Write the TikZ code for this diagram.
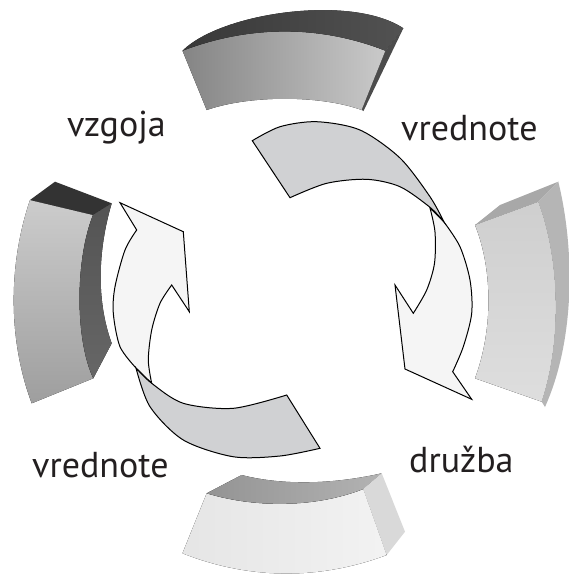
\documentclass[tikz,border=0pt]{standalone}
\usepackage{fontspec}
\setmainfont{PT Sans}
\usetikzlibrary{calc}
\definecolor{ink}{HTML}{231F20}
\definecolor{arrowgray}{HTML}{D0D1D3}
\definecolor{arrowlight}{HTML}{F5F5F5}
\tikzset{
  arrowpart/.style={draw=black, line width=1pt, line join=miter},
  lbl/.style={anchor=base west, inner sep=0pt, text=ink, font=\fontsize{36}{40}\selectfont},
}
\begin{document}
\begin{tikzpicture}[x=1pt,y=-1pt]
\useasboundingbox[fill=white] (0,0) rectangle (569,574);

% ---------- top block ----------
\fill[left color=black!48, right color=black!21]
  (182.5,50.7) .. controls (250,25) and (320,25) .. (385.5,50.7)
  -- (361.7,110) .. controls (320,95) and (250,95) .. (206.7,110) -- cycle;
\fill[left color=black!78, right color=black!68]
  (182.5,50.7) .. controls (222,12) and (352,-6) .. (403.3,28.3)
  -- (385.5,50.7) .. controls (320,25) and (250,25) .. (182.5,50.7) -- cycle;
\fill[black!70] (385.5,50.7) -- (403.3,28.3) -- (363.5,111) -- (361.7,110) -- cycle;

% ---------- left block ----------
\fill[top color=black!20, bottom color=black!38]
  (30,200) -- (93,215) .. controls (75,260) and (75,340) .. (93.3,378.3)
  -- (31.7,403.3) .. controls (8,340) and (8,265) .. (30,200) -- cycle;
\fill[black!80] (30,200) -- (55,181.7) -- (111.7,203.3) -- (93,215) -- cycle;
\fill[top color=black!67, bottom color=black!60]
  (93,215) -- (111.7,203.3) .. controls (98,250) and (96,300) .. (111.7,343.3)
  -- (93.3,378.3) .. controls (75,340) and (75,260) .. (93,215) -- cycle;

% ---------- right block ----------
\fill[top color=black!19, bottom color=black!13]
  (475,225) -- (538.3,201.7) .. controls (560,260) and (562,340) .. (541.7,401.7)
  -- (475,378.3) .. controls (493,330) and (493,270) .. (475,225) -- cycle;
\fill[black!34] (475,225) -- (500,205) -- (558.3,181.7) -- (538.3,201.7) -- cycle;
\fill[black!29]
  (538.3,201.7) -- (558.3,181.7) .. controls (575,250) and (575,340) .. (545,407)
  -- (541.7,401.7) .. controls (562,340) and (560,260) .. (538.3,201.7) -- cycle;

% ---------- bottom block ----------
\fill[left color=black!10, right color=black!5]
  (206.7,493.3) .. controls (255,508) and (315,508) .. (363.3,489)
  -- (386.7,555) .. controls (320,580) and (250,580) .. (182.5,553.3) -- cycle;
\fill[left color=black!42, right color=black!30]
  (206.7,493.3) -- (241.7,475) .. controls (280,485) and (330,485) .. (381.7,473.3)
  -- (363.3,489) .. controls (315,508) and (255,508) .. (206.7,493.3) -- cycle;
\fill[black!15] (363.3,489) -- (381.7,473.3) -- (405,531.7) -- (386.7,555) -- cycle;

% ---------- upper-right arrow ----------
\filldraw[arrowpart, fill=arrowlight]
  (430,208) -- plot[smooth] coordinates {(430,208) (435,232) (434.5,263.3) (426.7,290) (413.3,313.3)}
  -- (395,285) -- (405,369) -- (471.7,399.3)
  -- plot[smooth] coordinates {(452.7,371.7) (463.3,346.7) (471.7,313.3) (470,280) (460,246.7) (444,222)}
  -- cycle;
\filldraw[arrowpart, fill=arrowgray]
  (252.3,140.7) -- (290,197.7)
  -- plot[smooth] coordinates {(290,197.7) (326.7,183.3) (366.7,179.3) (400,186.7) (430,207.3) (444,222)}
  -- plot[smooth] coordinates {(444,222) (430,196.7) (400,158) (360,130) (316.7,121.7) (280,126.7) (252.3,140.7)}
  -- cycle;

% ---------- lower-left arrow ----------
\filldraw[arrowpart, fill=arrowlight]
  (151.7,383.3) -- plot[smooth] coordinates {(151.7,383.3) (148.3,360) (151.7,330) (160,303.3) (171.7,285)}
  -- (189.3,311.7) -- (183.3,231.7) -- (120,202.7)
  -- plot[smooth] coordinates {(136.7,230) (125,250) (115,286.7) (113.3,313.3) (120,346.7) (136,368)}
  -- cycle;
\filldraw[arrowpart, fill=arrowgray]
  (136,368) -- plot[smooth] coordinates {(136,368) (151.7,383.3) (183.3,403.3) (233.3,408.3) (286.7,395)}
  -- (320,448.3)
  -- plot[smooth] coordinates {(320,448.3) (280,456) (233,456.7) (183.3,440) (150,406.7) (136,368)}
  -- cycle;

% ---------- labels ----------
\node[lbl] (vzgoja) at (67,136.5) {vzgoja};
\node[lbl] (vredA) at (401,140) {vrednote};
\node[lbl] (vredB) at (32,477) {vrednote};
\node[lbl] (druzba) at (409,472) {družba};
\end{tikzpicture}
\end{document}
